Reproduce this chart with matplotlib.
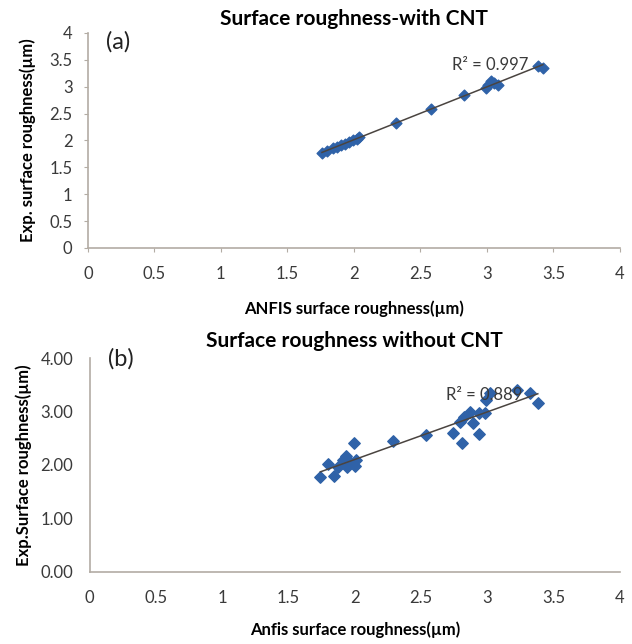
import numpy as np
import matplotlib
matplotlib.use('Agg')
import matplotlib.pyplot as plt

plt.rcParams['font.family'] = ['Lato', 'DejaVu Sans']

# (a) with CNT
anfis_a = [1.76, 1.80, 1.84, 1.87, 1.90, 1.93, 1.96, 1.99, 2.02, 2.04,
           2.32, 2.58, 2.83, 2.99, 3.01, 3.03, 3.05, 3.08, 3.38, 3.42]
exp_a = [1.77, 1.81, 1.85, 1.88, 1.91, 1.94, 1.97, 2.00, 2.03, 2.06,
         2.33, 2.59, 2.85, 2.97, 3.03, 3.10, 3.06, 3.03, 3.38, 3.34]

# (b) without CNT
anfis_b = [1.74, 1.80, 1.84, 1.87, 1.91, 1.93, 1.94, 1.96, 1.99, 2.00, 2.01,
           2.29, 2.54, 2.74, 2.81, 2.79, 2.82, 2.87, 2.89, 2.94, 2.94, 2.98,
           2.99, 3.02, 3.22, 3.32, 3.38]
exp_b = [1.77, 2.02, 1.80, 1.97, 2.09, 2.17, 1.96, 2.06, 2.42, 1.98, 2.09,
         2.45, 2.57, 2.59, 2.42, 2.81, 2.90, 3.00, 2.78, 2.58, 2.97, 2.98,
         3.21, 3.34, 3.40, 3.35, 3.15]

xticks = [0, 0.5, 1, 1.5, 2, 2.5, 3, 3.5, 4]
xticklabels = ['0', '0.5', '1', '1.5', '2', '2.5', '3', '3.5', '4']

blue = '#2f62a8'
axis_col = '#b3aca4'
txt = '#3a3a3a'

fig = plt.figure(figsize=(6.32, 6.44), dpi=100)
ax1 = fig.add_axes([0.139, 0.615, 0.842, 0.334])
ax2 = fig.add_axes([0.142, 0.112, 0.839, 0.332])


def style(ax, ticklen, xpad, ypad):
    for s in ['top', 'right']:
        ax.spines[s].set_visible(False)
    for s in ['left', 'bottom']:
        ax.spines[s].set_color(axis_col)
        ax.spines[s].set_linewidth(1.2)
    ax.tick_params(length=ticklen, color=axis_col, labelcolor=txt, labelsize=12)
    ax.tick_params(axis='x', pad=xpad)
    ax.tick_params(axis='y', pad=ypad)
    ax.set_xlim(0, 4)
    ax.set_ylim(0, 4)
    ax.set_xticks(xticks)
    ax.set_xticklabels(xticklabels)


def trend(ax, x, y):
    k, b = np.polyfit(x, y, 1)
    xs = np.array([min(x), max(x)])
    ax.plot(xs, k * xs + b, color='#4a4440', lw=1.1, zorder=3)


# panel (a)
style(ax1, 3, 10, 8)
ax1.set_yticks([0, 0.5, 1, 1.5, 2, 2.5, 3, 3.5, 4])
ax1.set_yticklabels(['0', '0.5', '1', '1.5', '2', '2.5', '3', '3.5', '4'])
ax1.scatter(anfis_a, exp_a, marker='D', s=30, color=blue, zorder=2)
trend(ax1, anfis_a, exp_a)
ax1.text(2.74, 3.4, 'R² = 0.997', fontsize=12, color=txt, va='center')
ax1.text(0.14, 3.83, '(a)', fontsize=17, color='#222222', va='center')
ax1.set_title('Surface roughness-with CNT', fontsize=15, fontweight='bold', pad=6)
ax1.set_xlabel('ANFIS surface roughness(µm)', fontsize=12, fontweight='bold', labelpad=13)
ax1.set_ylabel('Exp. surface roughness(µm)', fontsize=12, fontweight='bold', labelpad=10)

# panel (b)
style(ax2, 0, 13, 12)
ax2.set_yticks([0, 1, 2, 3, 4])
ax2.set_yticklabels(['0.00', '1.00', '2.00', '3.00', '4.00'])
ax2.scatter(anfis_b, exp_b, marker='D', s=34, color=blue, zorder=2)
trend(ax2, anfis_b, exp_b)
ax2.text(2.69, 3.31, 'R² = 0.889', fontsize=12, color=txt, va='center', zorder=4)
ax2.text(0.14, 3.98, '(b)', fontsize=17, color='#222222', va='center')
ax2.set_title('Surface roughness without CNT', fontsize=15, fontweight='bold', pad=8)
ax2.set_xlabel('Anfis surface roughness(µm)', fontsize=12, fontweight='bold', labelpad=11)
ax2.set_ylabel('Exp.Surface roughness(µm)', fontsize=12, fontweight='bold', labelpad=6)

fig.savefig('out.png', dpi=100)
